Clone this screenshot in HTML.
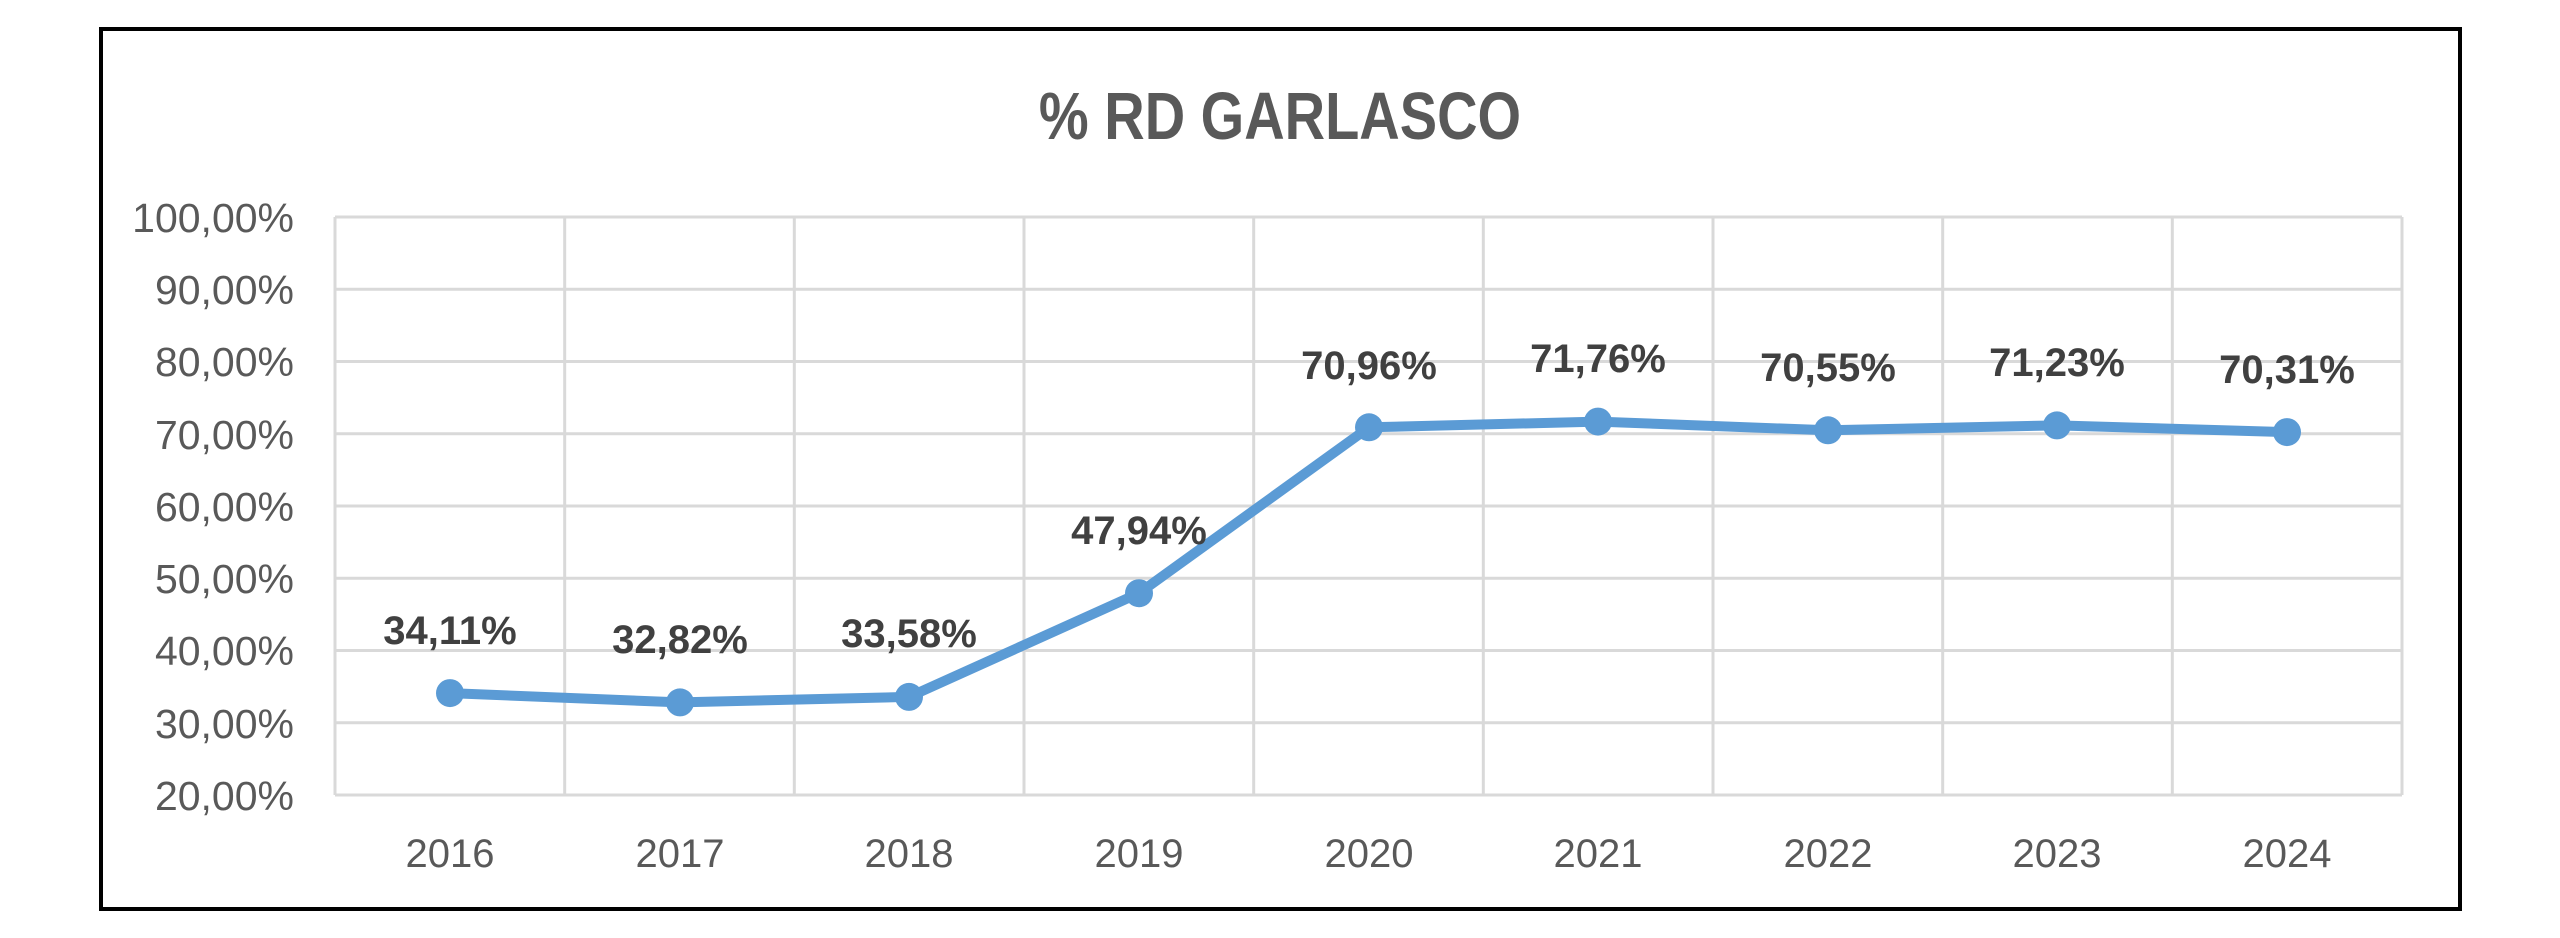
<!DOCTYPE html>
<html><head><meta charset="utf-8"><style>html,body{margin:0;padding:0;background:#fff}svg{display:block}</style></head>
<body>
<svg width="2560" height="938" viewBox="0 0 2560 938" xmlns="http://www.w3.org/2000/svg">
<rect x="0" y="0" width="2560" height="938" fill="#fff"/>
<rect x="101" y="29" width="2359" height="880" fill="#fff" stroke="#000" stroke-width="4"/>
<g transform="translate(1280,139) scale(1,1.2)">
<text x="0" y="0" text-anchor="middle" font-family="Liberation Sans, sans-serif" font-weight="bold" font-size="56" fill="#595959">% RD GARLASCO</text>
</g>
<g stroke="#D9D9D9" stroke-width="3" fill="none">
<line x1="335" y1="217" x2="2402" y2="217"/>
<line x1="335" y1="289.25" x2="2402" y2="289.25"/>
<line x1="335" y1="361.5" x2="2402" y2="361.5"/>
<line x1="335" y1="433.75" x2="2402" y2="433.75"/>
<line x1="335" y1="506" x2="2402" y2="506"/>
<line x1="335" y1="578.25" x2="2402" y2="578.25"/>
<line x1="335" y1="650.5" x2="2402" y2="650.5"/>
<line x1="335" y1="722.75" x2="2402" y2="722.75"/>
<line x1="335" y1="795" x2="2402" y2="795"/>
<line x1="335" y1="217" x2="335" y2="795"/>
<line x1="564.7" y1="217" x2="564.7" y2="795"/>
<line x1="794.3" y1="217" x2="794.3" y2="795"/>
<line x1="1024" y1="217" x2="1024" y2="795"/>
<line x1="1253.7" y1="217" x2="1253.7" y2="795"/>
<line x1="1483.3" y1="217" x2="1483.3" y2="795"/>
<line x1="1713" y1="217" x2="1713" y2="795"/>
<line x1="1942.7" y1="217" x2="1942.7" y2="795"/>
<line x1="2172.3" y1="217" x2="2172.3" y2="795"/>
<line x1="2402" y1="217" x2="2402" y2="795"/>
</g>
<g font-family="Liberation Sans, sans-serif" font-size="41" fill="#595959" text-anchor="end">
<text x="294" y="232">100,00%</text>
<text x="294" y="304">90,00%</text>
<text x="294" y="376">80,00%</text>
<text x="294" y="449">70,00%</text>
<text x="294" y="521">60,00%</text>
<text x="294" y="593">50,00%</text>
<text x="294" y="665">40,00%</text>
<text x="294" y="738">30,00%</text>
<text x="294" y="810">20,00%</text>
</g>
<g font-family="Liberation Sans, sans-serif" font-size="40" fill="#595959" text-anchor="middle">
<text x="450" y="867">2016</text>
<text x="680" y="867">2017</text>
<text x="909" y="867">2018</text>
<text x="1139" y="867">2019</text>
<text x="1369" y="867">2020</text>
<text x="1598" y="867">2021</text>
<text x="1828" y="867">2022</text>
<text x="2057" y="867">2023</text>
<text x="2287" y="867">2024</text>
</g>
<polyline fill="none" stroke="#5B9BD5" stroke-width="10" stroke-linejoin="round" stroke-linecap="round"
points="450,693.1 680,702.4 909,696.9 1139,593.2 1369,427.3 1598,421.6 1828,430.3 2057,425.4 2287,432.1"/>
<g fill="#5B9BD5">
<circle cx="450" cy="693.1" r="14"/>
<circle cx="680" cy="702.4" r="14"/>
<circle cx="909" cy="696.9" r="14"/>
<circle cx="1139" cy="593.2" r="14"/>
<circle cx="1369" cy="427.3" r="14"/>
<circle cx="1598" cy="421.6" r="14"/>
<circle cx="1828" cy="430.3" r="14"/>
<circle cx="2057" cy="425.4" r="14"/>
<circle cx="2287" cy="432.1" r="14"/>
</g>
<g font-family="Liberation Sans, sans-serif" font-weight="bold" font-size="40" fill="#404040" text-anchor="middle">
<text x="450" y="644">34,11%</text>
<text x="680" y="653">32,82%</text>
<text x="909" y="647">33,58%</text>
<text x="1139" y="544">47,94%</text>
<text x="1369" y="379">70,96%</text>
<text x="1598" y="372">71,76%</text>
<text x="1828" y="381">70,55%</text>
<text x="2057" y="376">71,23%</text>
<text x="2287" y="383">70,31%</text>
</g>
</svg>
</body></html>
